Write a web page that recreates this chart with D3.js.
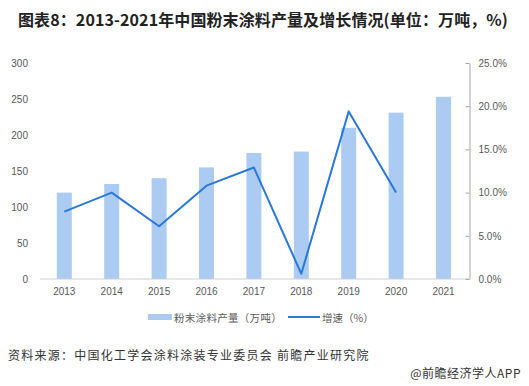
<!DOCTYPE html>
<html>
<head>
<meta charset="utf-8">
<script src="https://cdn.jsdelivr.net/npm/d3@7"></script>
<style>
  html, body { margin: 0; padding: 0; background: #fff; }
  svg { display: block; }
</style>
</head>
<body>
<svg id="chart" width="529" height="386"></svg>
<script>
const years = ["2013","2014","2015","2016","2017","2018","2019","2020","2021"];
const output = [120, 132, 140, 155, 175, 177, 210, 231, 253];
const growth = [7.8, 10.0, 6.1, 10.8, 12.9, 0.6, 19.4, 10.0, null];
const leftTicks = [0, 50, 100, 150, 200, 250, 300];
const rightTicks = [0, 5, 10, 15, 20, 25];
const titleText = "图表8：2013-2021年中国粉末涂料产量及增长情况(单位：万吨，%)";
const legendBar = "粉末涂料产量（万吨）";
const legendLine = "增速（%）";
const sourceText = "资料来源：中国化工学会涂料涂装专业委员会 前瞻产业研究院";
const brandText = "@前瞻经济学人APP";

const barColor = "#abcbf3";
const lineColor = "#2a78d8";
const labelColor = "#595959";
const cjk = "'Noto Sans CJK SC', 'Noto Sans', sans-serif";
const latin = "'Liberation Sans', Arial, sans-serif";

const svg = d3.select("#chart");

const x = d3.scaleBand().domain(years).range([40.6, 467.2])
  .paddingInner(0.684).paddingOuter(0.342);
const yL = d3.scaleLinear().domain([0, 300]).range([279, 63]);
const yR = d3.scaleLinear().domain([0, 25]).range([279, 63]);

// title
svg.append("text").attr("x", 18).attr("y", 26)
  .attr("font-family", cjk).attr("font-weight", "bold").attr("font-size", 16)
  .attr("letter-spacing", 0.1)
  .attr("fill", "#222").text(titleText);

// bars
svg.append("g").selectAll("rect").data(years).join("rect")
  .attr("x", d => x(d)).attr("width", x.bandwidth())
  .attr("y", (d, i) => yL(output[i]))
  .attr("height", (d, i) => yL(0) - yL(output[i]))
  .attr("fill", barColor);

// baseline
svg.append("line").attr("x1", 40).attr("x2", 469)
  .attr("y1", yL(0)).attr("y2", yL(0))
  .attr("stroke", "#d0d0d0").attr("stroke-width", 1);

// left axis
const axL = svg.append("g").attr("transform", "translate(30,0)")
  .call(d3.axisLeft(yL).tickValues(leftTicks).tickSize(0).tickPadding(2));
axL.select(".domain").remove();
axL.selectAll("text").attr("font-family", latin).attr("font-size", 10).attr("fill", labelColor);

// right axis
const axR = svg.append("g").attr("transform", "translate(469.5,0)")
  .call(d3.axisRight(yR).tickValues(rightTicks).tickSizeInner(-4).tickSizeOuter(0)
    .tickPadding(9).tickFormat(d => d.toFixed(1) + "%"));
axR.select(".domain").attr("stroke", "#a6a6a6");
axR.selectAll(".tick line").attr("stroke", "#a6a6a6");
axR.selectAll("text").attr("font-family", latin).attr("font-size", 10).attr("fill", labelColor);

// x axis labels
const axX = svg.append("g").attr("transform", `translate(0,${yL(0)})`)
  .call(d3.axisBottom(x).tickSize(0).tickPadding(9));
axX.select(".domain").remove();
axX.selectAll("text").attr("font-family", latin).attr("font-size", 10).attr("fill", labelColor);

// growth line
const line = d3.line()
  .defined(d => d.v !== null)
  .x(d => x(d.year) + x.bandwidth() / 2)
  .y(d => yR(d.v));
svg.append("path")
  .datum(years.map((y, i) => ({ year: y, v: growth[i] })))
  .attr("d", line).attr("fill", "none")
  .attr("stroke", lineColor).attr("stroke-width", 2).attr("stroke-linejoin", "round");

// legend
svg.append("rect").attr("x", 148).attr("y", 314).attr("width", 24).attr("height", 6).attr("fill", barColor);
svg.append("text").attr("x", 174).attr("y", 317).attr("dominant-baseline", "central")
  .attr("font-family", cjk).attr("font-size", 10.5).attr("letter-spacing", 0.3)
  .attr("fill", labelColor).text(legendBar);
svg.append("line").attr("x1", 288).attr("x2", 320).attr("y1", 317).attr("y2", 317)
  .attr("stroke", lineColor).attr("stroke-width", 2);
svg.append("text").attr("x", 322).attr("y", 317).attr("dominant-baseline", "central")
  .attr("font-family", cjk).attr("font-size", 10.5).attr("fill", labelColor).text(legendLine);

// source
svg.append("text").attr("x", 8).attr("y", 354).attr("dominant-baseline", "central")
  .attr("font-family", cjk).attr("font-size", 12).attr("letter-spacing", 1.25)
  .attr("fill", "#333").text(sourceText);
svg.append("text").attr("x", 521).attr("y", 372).attr("dominant-baseline", "central")
  .attr("text-anchor", "end")
  .attr("font-family", cjk).attr("font-size", 12).attr("letter-spacing", 0.5)
  .attr("fill", "#333").text(brandText);
</script>
</body>
</html>
